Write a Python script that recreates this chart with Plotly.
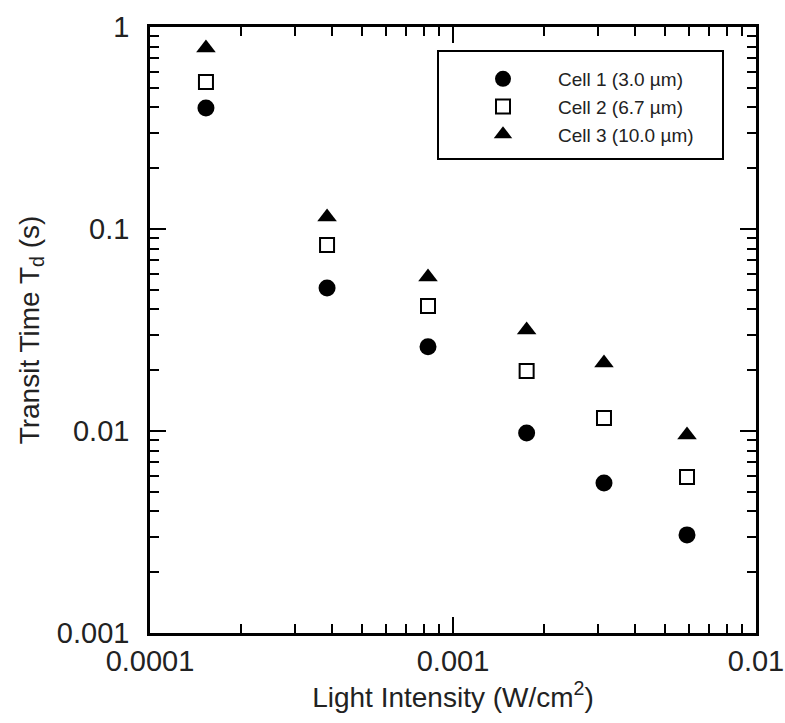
import plotly.graph_objects as go

intensity = [1.53e-4, 3.84e-4, 8.27e-4, 1.75e-3, 3.15e-3, 5.92e-3]
cell1 = [0.397, 0.0510, 0.0261, 0.00977, 0.00553, 0.00306]
cell2 = [0.534, 0.0833, 0.0416, 0.0198, 0.0116, 0.00592]
cell3 = [0.787, 0.1146, 0.0578, 0.0316, 0.0217, 0.00955]
names = ["Cell 1 (3.0 µm)", "Cell 2 (6.7 µm)", "Cell 3 (10.0 µm)"]

FONT = "Liberation Sans, Arial, sans-serif"
TXT = "#222"

fig = go.Figure()
fig.add_trace(go.Scatter(x=intensity, y=cell1, mode="markers", name=names[0],
                         marker=dict(symbol="circle", size=17, color="black",
                                     line=dict(width=0))))
fig.add_trace(go.Scatter(x=intensity, y=cell2, mode="markers", name=names[1],
                         marker=dict(symbol="square-open", size=14, color="black",
                                     line=dict(width=2))))
fig.add_trace(go.Scatter(x=intensity, y=cell3, mode="markers", name=names[2],
                         marker=dict(symbol="triangle-up", size=17, color="black",
                                     line=dict(width=0))))

axis_common = dict(
    type="log", showgrid=False, zeroline=False,
    showline=True, linecolor="black", linewidth=2.5, mirror="ticks",
    ticks="inside", ticklen=16, tickwidth=1.5, tickcolor="black",
    tickfont=dict(family=FONT, size=29, color=TXT),
    ticklabeloverflow="allow", automargin=False,
    minor=dict(ticks="inside", ticklen=9, tickwidth=1.5, tickcolor="black",
               dtick="D1", showgrid=False),
)

fig.update_xaxes(**axis_common, range=[-4, -2],
                 tickvals=[1e-4, 1e-3, 1e-2], ticktext=["0.0001", "0.001", "0.01"],
                 title=dict(text="Light Intensity (W/cm<sup>2</sup>)",
                            font=dict(family=FONT, size=28, color=TXT), standoff=12))
fig.update_yaxes(**axis_common, range=[-3, 0],
                 tickvals=[1e-3, 1e-2, 1e-1, 1], ticktext=["0.001", "0.01", "0.1", "1"],
                 ticklabelstandoff=12,
                 title=dict(text="Transit Time T<sub>d</sub> (s)",
                            font=dict(family=FONT, size=28, color=TXT), standoff=10))

fig.add_shape(type="rect", xref="paper", yref="paper",
              x0=(438 - 150) / 606, x1=(723 - 150) / 606,
              y0=(633 - 159) / 606, y1=(633 - 51) / 606,
              line=dict(color="black", width=2), fillcolor="rgba(0,0,0,0)")

fig.update_layout(
    width=785, height=723,
    margin=dict(l=150, r=29, t=27, b=90),
    paper_bgcolor="white", plot_bgcolor="white",
    font=dict(family=FONT, color=TXT),
    showlegend=True,
    legend=dict(x=(448 - 150) / 606, y=(633 - 60) / 606, xanchor="left", yanchor="top",
                bgcolor="rgba(0,0,0,0)", borderwidth=0,
                font=dict(family=FONT, size=19, color=TXT),
                itemwidth=100, tracegroupgap=0),
)

fig.write_html("out.html")
